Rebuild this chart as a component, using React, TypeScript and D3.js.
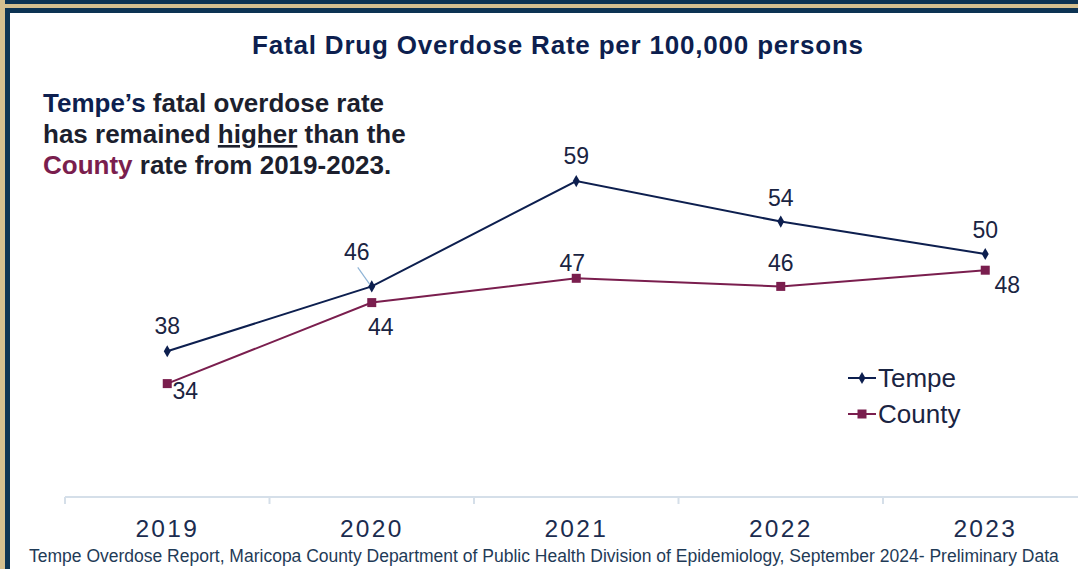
import React from "react";
import * as d3 from "d3";

const years = ["2019", "2020", "2021", "2022", "2023"];
const tempe = [38, 46, 59, 54, 50];
const county = [34, 44, 47, 46, 48];

const NAVY = "#0d1f4f";
const MAROON = "#7a1e4e";
const TEXT = "#1a2442";

// label placement offsets (dx, dy to baseline) relative to the point
const tempeLabelOff: [number, number][] = [[0, -17], [-15, -26], [0, -17], [0, -16], [0, -16]];
const countyLabelOff: [number, number][] = [[18, 15], [9, 32], [-4, -7], [0, -15], [22, 23]];

export default function App() {
  const W = 1078, H = 569;
  const x = d3.scaleBand<string>().domain(years).range([65, 65 + 5 * 204.5]);
  const y = d3.scaleLinear().domain([20, 70]).range([497, 92]);
  const cx = (yr: string) => (x(yr) as number) + x.bandwidth() / 2;
  const line = d3.line<number>().x((_, i) => cx(years[i])).y((v) => y(v));
  const diamond = d3.symbol().type(d3.symbolDiamond).size(42)() as string;
  const axisY = y(20);

  return (
    <svg width={W} height={H} style={{ position: "absolute", left: 0, top: 0, fontFamily: "'Liberation Sans', Arial, sans-serif" }}>
      <rect x={0} y={0} width={W} height={H} fill="#fff" />
      {/* frame */}
      <rect x={0} y={0} width={5} height={H} fill="#d4bf8f" />
      <rect x={5} y={0} width={W - 5} height={4} fill="#0c3353" />
      <rect x={5} y={4} width={W - 5} height={4} fill="#d4bf8f" />
      <rect x={5} y={8} width={W - 5} height={5} fill="#0c3353" />
      <rect x={5} y={8} width={5} height={H - 8} fill="#0c3353" />

      <text x={558} y={54} textAnchor="middle" fontSize={26} fontWeight="bold" fill={NAVY} letterSpacing={0.8}>
        Fatal Drug Overdose Rate per 100,000 persons
      </text>

      <text fontSize={26} fontWeight="bold" fill="#1c1f2e">
        <tspan x={43} y={112}><tspan fill={NAVY}>Tempe’s</tspan> fatal overdose rate</tspan>
        <tspan x={43} y={143}>has remained <tspan textDecoration="underline" style={{ textDecoration: "underline" }}>higher</tspan> than the</tspan>
        <tspan x={43} y={174}><tspan fill={MAROON}>County</tspan> rate from 2019-2023.</tspan>
      </text>

      {/* axis */}
      <line x1={65} x2={W} y1={axisY} y2={axisY} stroke="#d5dfe9" strokeWidth={2} />
      {years.map((yr) => (
        <line key={"t" + yr} x1={x(yr)} x2={x(yr)} y1={axisY} y2={axisY + 7} stroke="#d5dfe9" strokeWidth={2} />
      ))}
      {years.map((yr) => (
        <text key={"l" + yr} x={cx(yr)} y={537} textAnchor="middle" fontSize={24.5} letterSpacing={2.3} fill="#1b2c4f">
          {yr}
        </text>
      ))}

      {/* lines */}
      <path d={line(county) as string} fill="none" stroke={MAROON} strokeWidth={2} />
      <path d={line(tempe) as string} fill="none" stroke={NAVY} strokeWidth={2} />
      {county.map((v, i) => (
        <rect key={"cm" + i} x={cx(years[i]) - 4.5} y={y(v) - 4.5} width={9} height={9} fill={MAROON} />
      ))}
      {tempe.map((v, i) => (
        <path key={"tm" + i} d={diamond} transform={`translate(${cx(years[i])},${y(v)})`} fill={NAVY} />
      ))}

      {/* leader line for 2020 Tempe label */}
      <line x1={cx(years[1]) - 14} y1={y(tempe[1]) - 19} x2={cx(years[1]) - 2} y2={y(tempe[1]) - 2} stroke="#8fb4d6" strokeWidth={1.2} />

      {tempe.map((v, i) => (
        <text key={"tl" + i} x={cx(years[i]) + tempeLabelOff[i][0]} y={y(v) + tempeLabelOff[i][1]} textAnchor="middle" fontSize={23} fill={TEXT}>
          {v}
        </text>
      ))}
      {county.map((v, i) => (
        <text key={"cl" + i} x={cx(years[i]) + countyLabelOff[i][0]} y={y(v) + countyLabelOff[i][1]} textAnchor="middle" fontSize={23} fill={TEXT}>
          {v}
        </text>
      ))}

      {/* legend */}
      <line x1={848} x2={876} y1={378} y2={378} stroke={NAVY} strokeWidth={2} />
      <path d={diamond} transform="translate(862,378)" fill={NAVY} />
      <text x={878} y={387} fontSize={26} fill={TEXT}>Tempe</text>
      <line x1={848} x2={876} y1={414} y2={414} stroke={MAROON} strokeWidth={2} />
      <rect x={857.5} y={409.5} width={9} height={9} fill={MAROON} />
      <text x={878} y={423} fontSize={26} fill={TEXT}>County</text>

      <text x={29} y={562} fontSize={17.5} fill="#1f3b57">
        Tempe Overdose Report, Maricopa County Department of Public Health Division of Epidemiology, September 2024- Preliminary Data
      </text>
    </svg>
  );
}
